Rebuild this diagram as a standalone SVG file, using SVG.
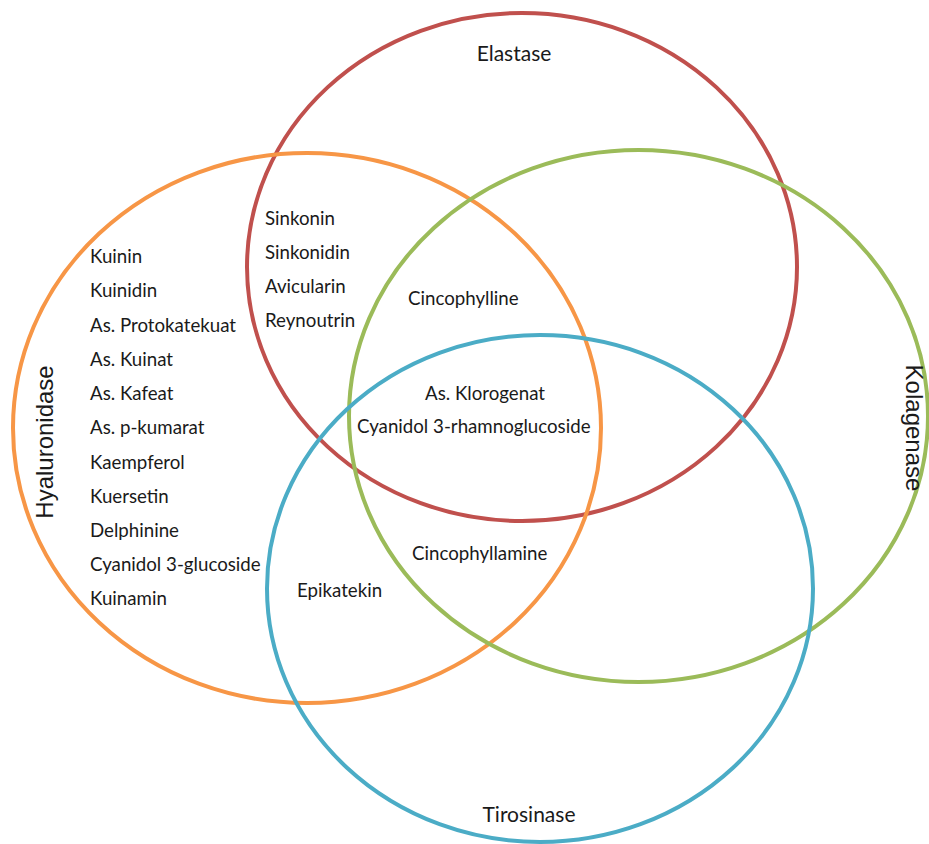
<svg xmlns="http://www.w3.org/2000/svg" width="929" height="844" viewBox="0 0 929 844">
<style>
.c{fill:none;stroke-width:4}
.t{font-family:Lato,"Open Sans",sans-serif;font-size:18.7px;fill:#1a1a1a}
.l{font-family:Lato,"Open Sans",sans-serif;font-size:21px;fill:#1a1a1a}
.h{font-family:"Liberation Sans",Arial,sans-serif;font-size:24px;fill:#1a1a1a}
</style>
<rect width="929" height="844" fill="#fff"/>
<g id="elastase">
<ellipse class="c" cx="522" cy="267" rx="275" ry="254" stroke="#C0504D"/>
<text class="l" x="514" y="61" text-anchor="middle">Elastase</text>
</g>
<g id="hyaluronidase">
<ellipse class="c" cx="307" cy="428" rx="294" ry="275" stroke="#F79646"/>
<text class="h" transform="translate(53,442) rotate(-90)" text-anchor="middle">Hyaluronidase</text>
</g>
<g id="kolagenase">
<ellipse class="c" cx="638.5" cy="416" rx="289.5" ry="266" stroke="#9BBB59"/>
<text class="h" transform="translate(906,428) rotate(90)" text-anchor="middle">Kolagenase</text>
</g>
<g id="tirosinase">
<ellipse class="c" cx="540" cy="588.5" rx="273" ry="253.5" stroke="#4BACC6"/>
<text class="l" x="529" y="822" text-anchor="middle">Tirosinase</text>
</g>
<g id="hyaluronidase-only">
<text class="t" x="90" y="263">Kuinin</text>
<text class="t" x="90" y="297">Kuinidin</text>
<text class="t" x="90" y="332">As. Protokatekuat</text>
<text class="t" x="90" y="366">As. Kuinat</text>
<text class="t" x="90" y="400">As. Kafeat</text>
<text class="t" x="90" y="434">As. p-kumarat</text>
<text class="t" x="90" y="469">Kaempferol</text>
<text class="t" x="90" y="503">Kuersetin</text>
<text class="t" x="90" y="537">Delphinine</text>
<text class="t" x="90" y="571">Cyanidol 3-glucoside</text>
<text class="t" x="90" y="605">Kuinamin</text>
</g>
<g id="elastase-hyaluronidase">
<text class="t" x="265" y="225">Sinkonin</text>
<text class="t" x="265" y="259">Sinkonidin</text>
<text class="t" x="265" y="293">Avicularin</text>
<text class="t" x="265" y="327">Reynoutrin</text>
</g>
<g id="elastase-hyaluronidase-kolagenase">
<text class="t" x="408" y="305">Cincophylline</text>
</g>
<g id="all-four">
<text class="t" x="425" y="400">As. Klorogenat</text>
<text class="t" x="357" y="433">Cyanidol 3-rhamnoglucoside</text>
</g>
<g id="hyaluronidase-kolagenase-tirosinase">
<text class="t" x="412" y="560">Cincophyllamine</text>
</g>
<g id="hyaluronidase-tirosinase">
<text class="t" x="297" y="597">Epikatekin</text>
</g>
<g id="connectors"></g>
</svg>
